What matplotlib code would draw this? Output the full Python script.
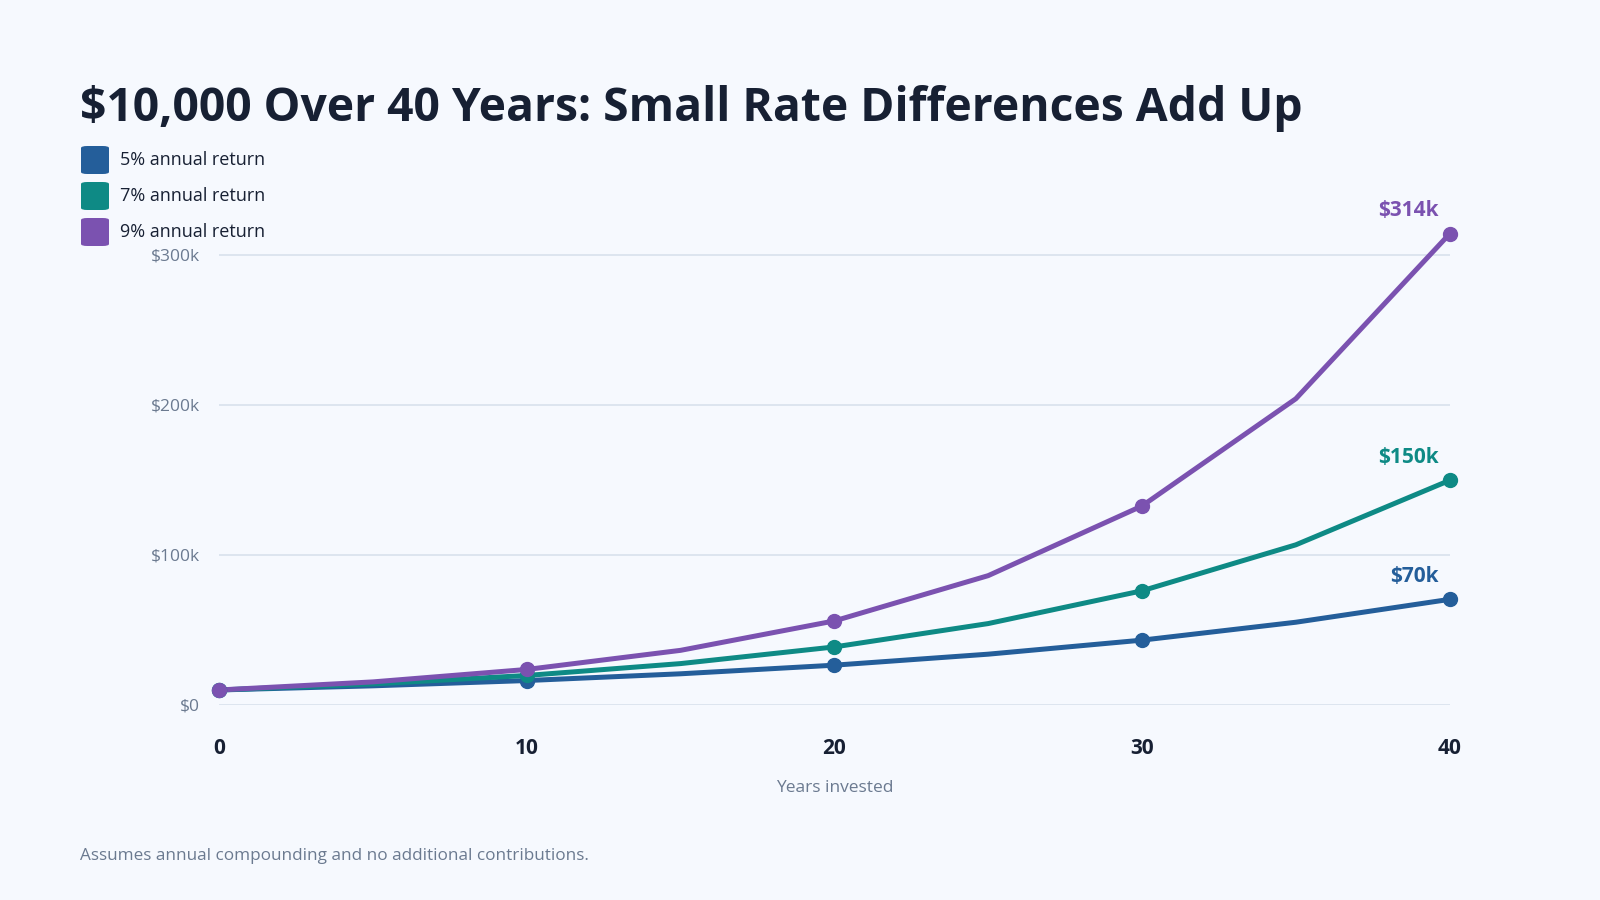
import matplotlib
matplotlib.use('Agg')
import matplotlib.pyplot as plt
from matplotlib.patches import FancyBboxPatch

# ── Data ──────────────────────────────────────────────────────────────────────
years = [0, 5, 10, 15, 20, 25, 30, 35, 40]
rate_5 = [10000, 12763, 16289, 20789, 26533, 33864, 43219, 55160, 70400]
rate_7 = [10000, 14026, 19672, 27590, 38697, 54274, 76123, 106766, 149745]
rate_9 = [10000, 15386, 23674, 36425, 56044, 86231, 132677, 204140, 314094]
series_labels = ['5% annual return', '7% annual return', '9% annual return']
end_labels = ['$70k', '$150k', '$314k']
marker_years = [0, 10, 20, 30, 40]
y_ticks = [0, 100000, 200000, 300000]
y_ticklabels = ['$0', '$100k', '$200k', '$300k']

# ── Style ─────────────────────────────────────────────────────────────────────
BG = '#f6f9fe'
TITLE = '#172033'
MUTED = '#6b7a90'
GRID = '#d8e1ec'
COLORS = ['#245e9a', '#0e8a85', '#7b52b0']

plt.rcParams['font.family'] = ['Open Sans', 'DejaVu Sans']

fig = plt.figure(figsize=(16, 9), dpi=100, facecolor=BG)
ax = fig.add_axes([0.137, 0.2167, 0.769, 0.5333])
ax.set_facecolor(BG)

all_series = [rate_5, rate_7, rate_9]
for vals, color, lab in zip(all_series, COLORS, end_labels):
    ax.plot(years, vals, color=color, linewidth=3.6, solid_capstyle='round',
            zorder=3, clip_on=False)
    mx = [y for y in years if y in marker_years]
    my = [v for y, v in zip(years, vals) if y in marker_years]
    ax.plot(mx, my, 'o', color=color, markersize=10, zorder=4, clip_on=False)
    ax.annotate(lab, (years[-1], vals[-1]), xytext=(-8, 9),
                textcoords='offset points', ha='right', va='bottom',
                fontsize=15, fontweight='bold', color=color)

ax.set_xlim(0, 40)
ax.set_ylim(0, 320000)
ax.set_xticks(marker_years)
ax.set_xticklabels([str(y) for y in marker_years], fontsize=15,
                   fontweight='bold', color=TITLE)
ax.set_yticks(y_ticks)
ax.set_yticklabels(y_ticklabels, fontsize=12.5, color=MUTED)
ax.tick_params(axis='both', length=0)
ax.tick_params(axis='x', pad=24)
ax.tick_params(axis='y', pad=14)
for yv in y_ticks:
    ax.axhline(yv, color=GRID, linewidth=1.2, zorder=1)
for s in ax.spines.values():
    s.set_visible(False)
ax.set_xlabel('Years invested', fontsize=12.5, color=MUTED, labelpad=15)

# Title
fig.text(0.05, 0.88, '$10,000 Over 40 Years: Small Rate Differences Add Up',
         fontsize=33.3, fontweight='bold', color=TITLE, ha='left', va='center')

# Legend
for i, (lab, color) in enumerate(zip(series_labels, COLORS)):
    yc = 1 - (160 + 36 * i) / 900
    w, h = 28 / 1600, 28 / 900
    fig.patches.append(FancyBboxPatch(
        (81 / 1600, yc - h / 2), w, h,
        boxstyle='round,pad=0,rounding_size=0.004',
        transform=fig.transFigure, facecolor=color, edgecolor='none',
        mutation_aspect=900 / 1600))
    fig.text(120 / 1600, yc, lab, fontsize=13, color=TITLE,
             ha='left', va='center')

# Footnote
fig.text(0.05, 1 - 856 / 900,
         'Assumes annual compounding and no additional contributions.',
         fontsize=12.3, color=MUTED, ha='left', va='center')

fig.savefig('out.png', dpi=100, facecolor=BG)
